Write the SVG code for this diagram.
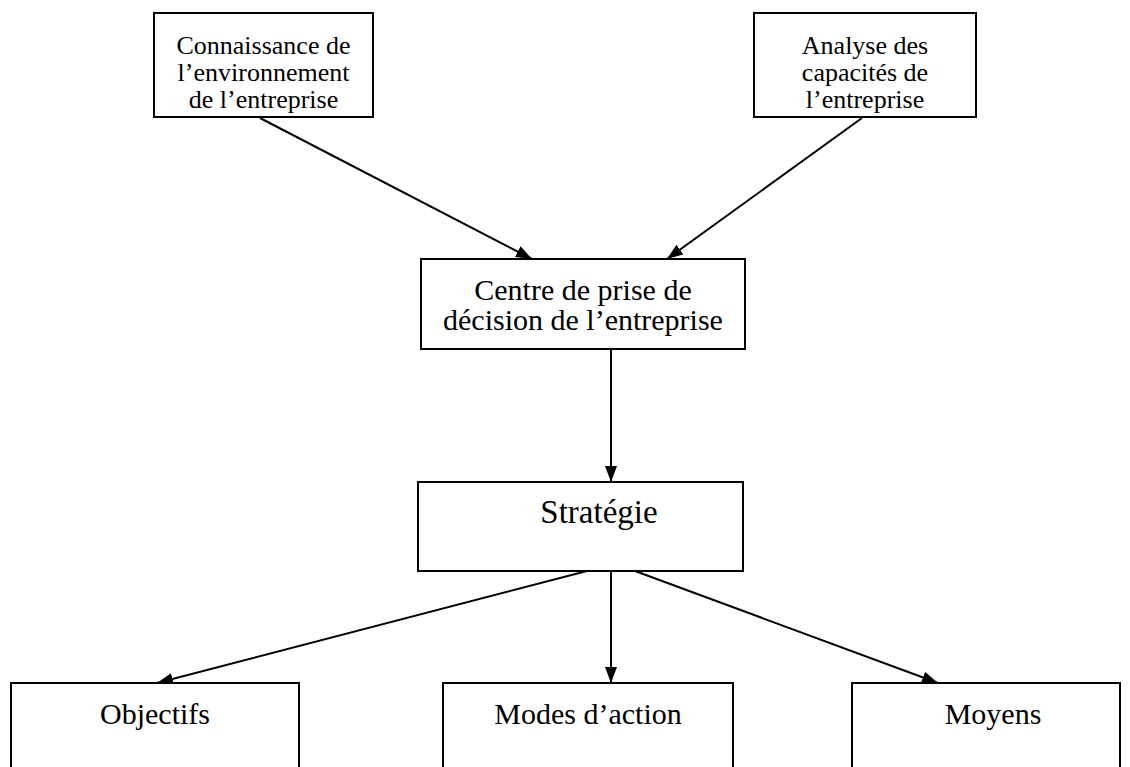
<svg xmlns="http://www.w3.org/2000/svg" width="1130" height="767" viewBox="0 0 1130 767">
<defs>
<style>
.box{fill:#fff;stroke:#000;stroke-width:2}
.t{font-family:"Liberation Serif","Times New Roman",serif;font-size:30px;fill:#000;text-anchor:middle}
.s{font-size:26px}
.big{font-size:33px}
.c{stroke:#000;stroke-width:2;fill:none;marker-end:url(#ah)}
</style>
<marker id="ah" viewBox="0 0 16 12" refX="16" refY="6" markerWidth="16" markerHeight="12" markerUnits="userSpaceOnUse" orient="auto">
<path d="M0,0 L16,6 L0,12 Z" fill="#000"/>
</marker>
</defs>
<rect width="1130" height="767" fill="#fff"/>
<g id="connectors">
<line class="c" x1="260" y1="118" x2="532" y2="259"/>
<line class="c" x1="862" y1="118" x2="667" y2="259"/>
<line class="c" x1="611" y1="349" x2="611" y2="482"/>
<line class="c" x1="587" y1="571" x2="157" y2="683"/>
<line class="c" x1="611" y1="571" x2="611" y2="683"/>
<line class="c" x1="635" y1="571" x2="938" y2="683"/>
</g>
<g id="n1">
<rect class="box" x="154" y="13" width="219" height="104"/>
<text class="t s" x="263.5" y="54">Connaissance de</text>
<text class="t s" x="263.5" y="81">l’environnement</text>
<text class="t s" x="263.5" y="108">de l’entreprise</text>
</g>
<g id="n2">
<rect class="box" x="754" y="13" width="222" height="104"/>
<text class="t s" x="865" y="54">Analyse des</text>
<text class="t s" x="865" y="81">capacités de</text>
<text class="t s" x="865" y="108">l’entreprise</text>
</g>
<g id="n3">
<rect class="box" x="421" y="259" width="324" height="90"/>
<text class="t" x="583" y="300">Centre de prise de</text>
<text class="t" x="583" y="330">décision de l’entreprise</text>
</g>
<g id="n4">
<rect class="box" x="418" y="482" width="325" height="89"/>
<text class="t big" x="599" y="523">Stratégie</text>
</g>
<g id="n5">
<rect class="box" x="11" y="683" width="288" height="100"/>
<text class="t" x="155" y="724">Objectifs</text>
</g>
<g id="n6">
<rect class="box" x="443" y="683" width="290" height="100"/>
<text class="t" x="588" y="724">Modes d’action</text>
</g>
<g id="n7">
<rect class="box" x="852" y="683" width="268" height="100"/>
<text class="t" x="993" y="724">Moyens</text>
</g>
</svg>
